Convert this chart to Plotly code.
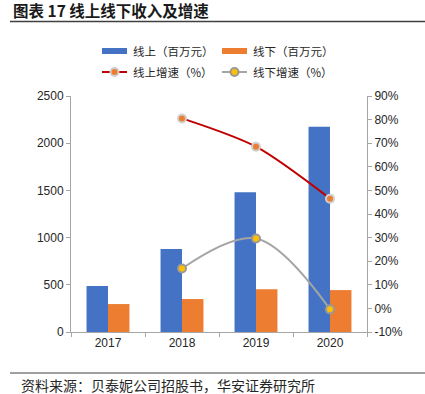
import plotly.graph_objects as go

years = ["2017", "2018", "2019", "2020"]
online = [487, 878, 1481, 2173]
offline = [296, 349, 452, 444]
online_growth_years = ["2018", "2019", "2020"]
online_growth = [80.5, 68.5, 46.5]
offline_growth = [16.9, 29.6, -0.4]

left_ticks = [0, 500, 1000, 1500, 2000, 2500]
right_ticks = list(range(-10, 91, 10))

BLUE = "#4472C4"
ORANGE = "#ED7D31"
RED = "#C00000"
GRAY = "#A5A5A5"
YELLOW = "#FFC000"
TXT = "#262626"
AX = "#A6A6A6"

OFF = 0  # body margin removed via post_script
W, H = 425 - OFF, 394 - OFF
# plot area in page pixels: x 71..367, y 96..332
L = 71 - OFF
R = W - (367 - OFF)
T = 96 - OFF
B = H - (332 - OFF)
PW = W - L - R
PH = H - T - B

fig = go.Figure()
fig.add_trace(go.Bar(x=years, y=online, name="线上（百万元）", marker_color=BLUE,
                     marker_line_width=0, showlegend=False))
fig.add_trace(go.Bar(x=years, y=offline, name="线下（百万元）", marker_color=ORANGE,
                     marker_line_width=0, showlegend=False))
fig.add_trace(go.Scatter(x=online_growth_years, y=online_growth, yaxis="y2", mode="lines+markers",
                         line=dict(color=RED, width=2, shape="spline", smoothing=0.8),
                         marker=dict(size=8, color=ORANGE, line=dict(color="#D0D0D0", width=2)),
                         name="线上增速（%）", showlegend=False))
fig.add_trace(go.Scatter(x=online_growth_years, y=offline_growth, yaxis="y2", mode="lines+markers",
                         line=dict(color=GRAY, width=2, shape="spline", smoothing=1.0),
                         marker=dict(size=8, color=YELLOW, line=dict(color="#999999", width=2)),
                         name="线下增速（%）", showlegend=False))

tickfont = dict(family="Liberation Sans, Arial", size=12, color=TXT)

fig.update_layout(
    width=W, height=H,
    margin=dict(l=L, r=R, t=T, b=B, autoexpand=False),
    paper_bgcolor="white", plot_bgcolor="white",
    barmode="group", bargap=0.42, bargroupgap=0,
    xaxis=dict(type="category", categoryorder="array", categoryarray=years,
               showline=True, linecolor=AX, linewidth=1, ticks="outside",
               tickson="boundaries", ticklen=4, tickcolor=AX, tickfont=tickfont,
               showgrid=False, zeroline=False),
    yaxis=dict(range=[0, 2500], tickvals=left_ticks, showline=True, linecolor=AX,
               linewidth=1, ticks="outside", ticklen=4, tickcolor=AX, tickfont=tickfont,
               showgrid=False, zeroline=False),
    yaxis2=dict(range=[-10, 90], tickvals=right_ticks, ticktext=[f"{v}%" for v in right_ticks],
                overlaying="y", side="right", showline=True, linecolor=AX, linewidth=1,
                ticks="outside", ticklen=4, tickcolor=AX, tickfont=tickfont,
                showgrid=False, zeroline=False),
    showlegend=False,
)


def px(x):
    return (x - OFF - L) / PW


def py(y):
    return ((H - B) - (y - OFF)) / PH


shapes = []
annotations = []

# title and rules
annotations.append(dict(x=px(11), y=py(10.5), xref="paper", yref="paper", xanchor="left", yanchor="middle",
                        text="<b>图表 17 线上线下收入及增速</b>", showarrow=False,
                        font=dict(family="Noto Sans CJK SC", size=15.5, color="#1a1a1a")))
shapes.append(dict(type="line", xref="paper", yref="paper", x0=px(10), x1=px(425), y0=py(21.5), y1=py(21.5),
                   line=dict(color="#404040", width=1.5)))
shapes.append(dict(type="line", xref="paper", yref="paper", x0=px(10), x1=px(425), y0=py(373), y1=py(373),
                   line=dict(color="#404040", width=1)))
annotations.append(dict(x=px(19), y=py(385), xref="paper", yref="paper", xanchor="left", yanchor="middle",
                        text="资料来源：贝泰妮公司招股书，华安证券研究所", showarrow=False,
                        font=dict(family="Noto Sans CJK SC", size=14, color="#262626")))

# legend (manual)
legfont = dict(family="Noto Sans CJK SC", size=11.5, color=TXT)
items = [
    ("bar", BLUE, None, None, 102, 51, "线上（百万元）"),
    ("bar", ORANGE, None, None, 222, 51, "线下（百万元）"),
    ("line", RED, ORANGE, "#D0D0D0", 102, 72, "线上增速（%）"),
    ("line", GRAY, YELLOW, "#999999", 222, 72, "线下增速（%）"),
]
for kind, col, mfill, mline, x0, yc, label in items:
    if kind == "bar":
        shapes.append(dict(type="rect", xref="paper", yref="paper", x0=px(x0), x1=px(x0 + 25),
                           y0=py(yc - 3), y1=py(yc + 3), fillcolor=col, line=dict(width=0)))
    else:
        shapes.append(dict(type="line", xref="paper", yref="paper", x0=px(x0), x1=px(x0 + 25),
                           y0=py(yc), y1=py(yc), line=dict(color=col, width=2)))
        shapes.append(dict(type="circle", xref="paper", yref="paper", x0=px(x0 + 12.5 - 4), x1=px(x0 + 12.5 + 4),
                           y0=py(yc - 4), y1=py(yc + 4), fillcolor=mfill, line=dict(color=mline, width=2)))
    annotations.append(dict(x=px(x0 + 29), y=py(yc), xref="paper", yref="paper", xanchor="left",
                            yanchor="middle", text=label, showarrow=False, font=legfont))

fig.update_layout(shapes=shapes, annotations=annotations)
fig.write_html("out.html", config={"displayModeBar": False},
               post_script="document.body.style.margin='0px';")
